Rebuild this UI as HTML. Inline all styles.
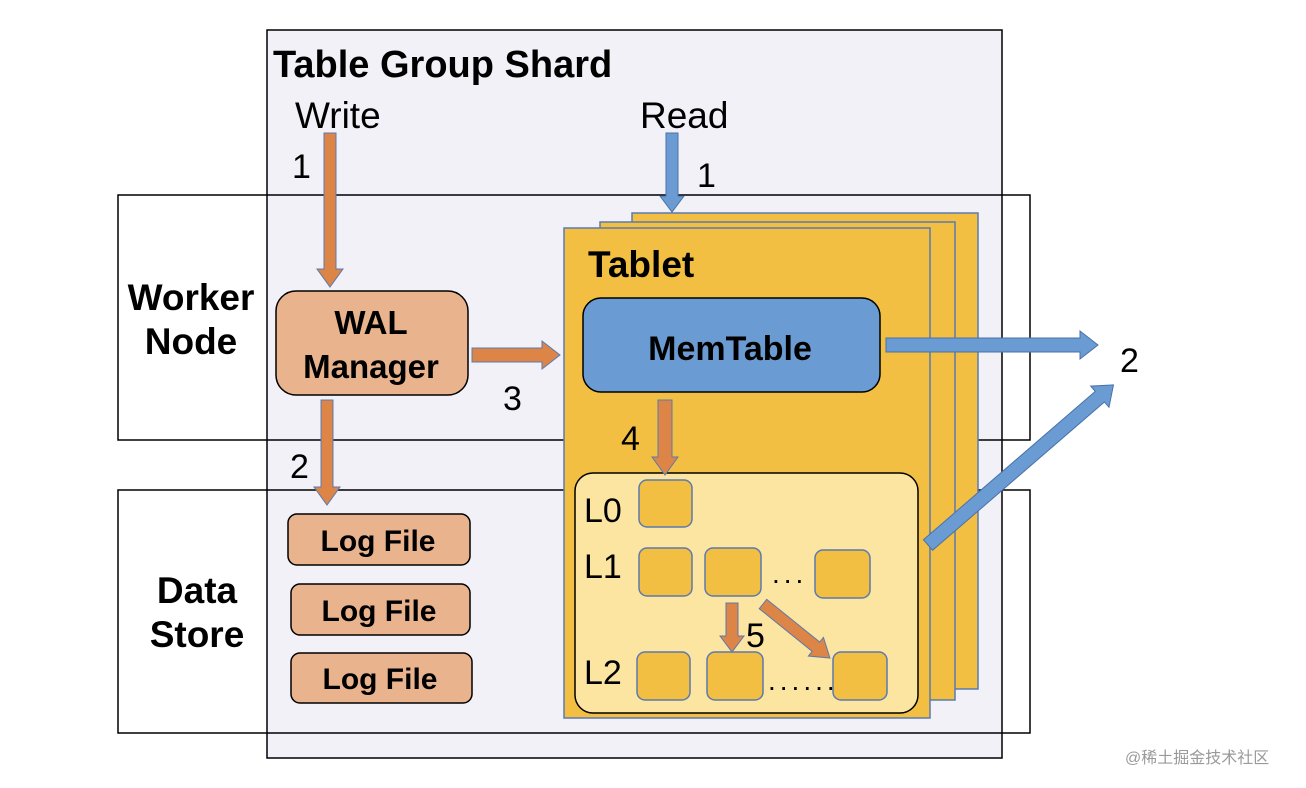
<!DOCTYPE html>
<html><head><meta charset="utf-8"><style>
html,body{margin:0;padding:0;background:#fff;}
svg{display:block;}
text{font-family:"Liberation Sans",sans-serif;}
</style></head><body>
<svg width="1306" height="788" viewBox="0 0 1306 788" xmlns="http://www.w3.org/2000/svg">
<rect x="0" y="0" width="1306" height="788" fill="#fff"/>
<rect x="267" y="30" width="735" height="728" fill="#f1f1f7" stroke="#000" stroke-width="1.5"/>
<rect x="118" y="195" width="912" height="245" fill="none" stroke="#000" stroke-width="1.5"/>
<rect x="118" y="490" width="912" height="243" fill="none" stroke="#000" stroke-width="1.5"/>

<rect x="632" y="213" width="346" height="476" fill="#f2bf42" stroke="#5a7ab0" stroke-width="1.5"/>
<rect x="600" y="222" width="355" height="478" fill="#f2bf42" stroke="#5a7ab0" stroke-width="1.5"/>
<rect x="564" y="228" width="366" height="490" fill="#f2bf42" stroke="#5a7ab0" stroke-width="1.5"/>
<text x="588" y="277" font-size="37" font-weight="bold">Tablet</text>
<rect x="583" y="298" width="297" height="94" rx="18" fill="#6a9bd2" stroke="#000" stroke-width="1.5"/>
<text x="730" y="360" font-size="34" font-weight="bold" text-anchor="middle">MemTable</text>

<rect x="575" y="473" width="343" height="240" rx="18" fill="#fbe5a0" stroke="#000" stroke-width="1.5"/>
<g fill="#f2bf42" stroke="#5a7ab0" stroke-width="1.5">
<rect x="639" y="480" width="53" height="47" rx="8"/>
<rect x="639" y="548" width="53" height="48" rx="8"/>
<rect x="705" y="548" width="56" height="48" rx="8"/>
<rect x="815" y="550" width="55" height="48" rx="8"/>
<rect x="637" y="652" width="53" height="48" rx="8"/>
<rect x="707" y="652" width="56" height="48" rx="8"/>
<rect x="833" y="652" width="54" height="48" rx="8"/>
</g>
<g font-size="34">
<text x="584" y="522">L0</text>
<text x="584" y="578">L1</text>
<text x="584" y="684">L2</text>
</g>
<text x="772" y="583" font-size="28" letter-spacing="4">...</text>
<text x="768" y="690" font-size="28" letter-spacing="4">......</text>

<rect x="276" y="291" width="192" height="104" rx="20" fill="#e9b48d" stroke="#000" stroke-width="1.5"/>
<text x="371" y="334" font-size="33" font-weight="bold" text-anchor="middle">WAL</text>
<text x="371" y="378" font-size="33" font-weight="bold" text-anchor="middle">Manager</text>
<g fill="#e9b48d" stroke="#000" stroke-width="1.5">
<rect x="288" y="514" width="182" height="51" rx="9"/>
<rect x="291" y="584" width="179" height="51" rx="9"/>
<rect x="291" y="653" width="181" height="50" rx="9"/>
</g>
<g font-size="30" font-weight="bold" text-anchor="middle">
<text x="378" y="551">Log File</text>
<text x="379" y="621">Log File</text>
<text x="380" y="689">Log File</text>
</g>

<g fill="#dd8447" stroke="#5a7ab0" stroke-width="1">
<path transform="translate(330,133) rotate(90)" d="M0,-6 L136,-6 L136,-13 L154,0 L136,13 L136,6 L0,6 Z"/>
<path transform="translate(327,400) rotate(90)" d="M0,-6 L87,-6 L87,-13 L105,0 L87,13 L87,6 L0,6 Z"/>
<path transform="translate(472,355)" d="M0,-7 L70,-7 L70,-14 L88,0 L70,14 L70,7 L0,7 Z"/>
<path transform="translate(665,400) rotate(90)" d="M0,-7 L57,-7 L57,-13 L75,0 L57,13 L57,7 L0,7 Z"/>
<path transform="translate(732,603) rotate(90)" d="M0,-6 L33,-6 L33,-12 L49,0 L33,12 L33,6 L0,6 Z"/>
<path transform="translate(763,604) rotate(38.9)" d="M0,-6 L68,-6 L68,-12 L86,0 L68,12 L68,6 L0,6 Z"/>
</g>
<g fill="#6a9bd2" stroke="#4a72a8" stroke-width="1">
<path transform="translate(672,133) rotate(90)" d="M0,-6 L63,-6 L63,-12 L79,0 L63,12 L63,6 L0,6 Z"/>
<path transform="translate(886,345)" d="M0,-7 L194,-7 L194,-14 L212,0 L194,14 L194,7 L0,7 Z"/>
<path transform="translate(928,545) rotate(-40.8)" d="M0,-7 L227,-7 L227,-14 L245,0 L227,14 L227,7 L0,7 Z"/>
</g>

<text x="273" y="77" font-size="38" font-weight="bold">Table Group Shard</text>
<text x="295" y="128" font-size="37">Write</text>
<text x="640" y="128" font-size="37">Read</text>
<g font-size="34">
<text x="292" y="178">1</text>
<text x="697" y="187">1</text>
<text x="503" y="410">3</text>
<text x="290" y="478">2</text>
<text x="1120" y="372">2</text>
<text x="621" y="450">4</text>
<text x="746" y="647">5</text>
</g>
<g font-size="37" font-weight="bold" text-anchor="middle">
<text x="191" y="310">Worker</text>
<text x="191" y="354">Node</text>
<text x="197" y="603">Data</text>
<text x="197" y="647">Store</text>
</g>
<text x="1125" y="763" font-size="16" fill="#9a9a9a" font-family="'Liberation Sans','Noto Sans CJK SC',sans-serif">@稀土掘金技术社区</text>
</svg>
</body></html>
